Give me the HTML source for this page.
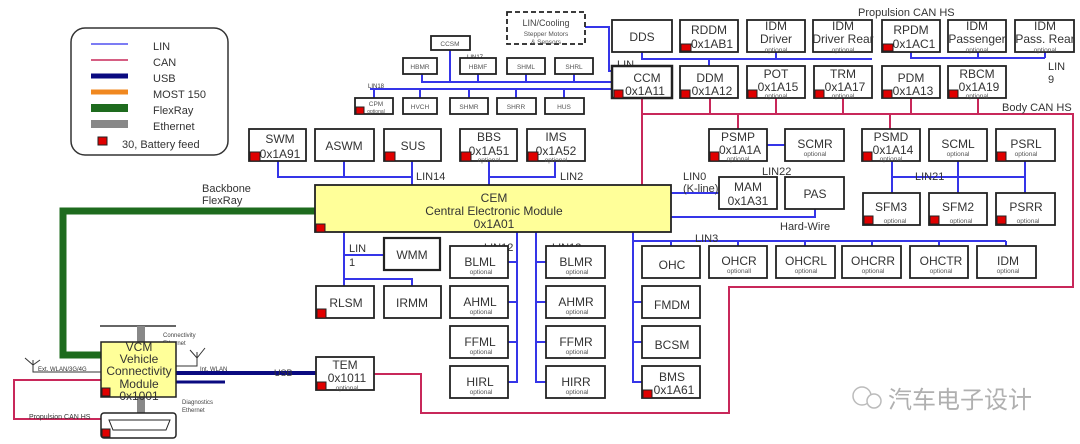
<!DOCTYPE html>
<html><head><meta charset="utf-8"><style>
html,body{margin:0;padding:0;background:#fff;}
svg{display:block;font-family:"Liberation Sans",Arial,sans-serif;}
.b{fill:#fff;stroke:#222;stroke-width:1.8}
.t{font-size:12px;fill:#333;text-anchor:middle}
.s{font-size:8px;fill:#444;text-anchor:middle}
.o{font-size:6.5px;fill:#555;text-anchor:middle}
.l{font-size:11px;fill:#333}
.r{fill:#e00000;stroke:#222;stroke-width:1}
.lin{stroke:#3535e8;stroke-width:2;fill:none}
.can{stroke:#c8285a;stroke-width:2;fill:none}
</style></head><body>
<svg width="1080" height="444" viewBox="0 0 1080 444" xmlns="http://www.w3.org/2000/svg">
<!-- legend -->
<rect x="71" y="28" width="157" height="127" rx="14" fill="#fff" stroke="#333" stroke-width="1.5"/>
<line x1="91" y1="44" x2="128" y2="44" stroke="#5050f0" stroke-width="1.5"/>
<line x1="91" y1="60" x2="128" y2="60" stroke="#c8285a" stroke-width="1.5"/>
<line x1="91" y1="76" x2="128" y2="76" stroke="#0a0a80" stroke-width="5"/>
<line x1="91" y1="92" x2="128" y2="92" stroke="#f08820" stroke-width="5"/>
<line x1="91" y1="108" x2="128" y2="108" stroke="#1e6b1e" stroke-width="8"/>
<line x1="91" y1="124" x2="128" y2="124" stroke="#888" stroke-width="8"/>
<rect x="98" y="137" width="9" height="8" class="r"/>
<text class="l" x="153" y="50">LIN</text><text class="l" x="153" y="66">CAN</text>
<text class="l" x="153" y="82">USB</text><text class="l" x="153" y="98">MOST 150</text>
<text class="l" x="153" y="114">FlexRay</text><text class="l" x="153" y="130">Ethernet</text>
<text class="l" x="122" y="148">30, Battery feed</text>

<!-- FlexRay -->
<polyline points="316,211 63,211 63,355 101,355" fill="none" stroke="#1e6b1e" stroke-width="7"/>
<text class="l" x="202" y="192">Backbone</text><text class="l" x="202" y="204">FlexRay</text>

<!-- CAN lines -->
<polyline class="can" points="642,98 642,186"/>
<polyline class="can" points="642,114 1073,114 1073,287 729,287 729,413 421,413 421,374 374,374"/>
<line class="can" x1="710" y1="98" x2="710" y2="114"/>
<line class="can" x1="776" y1="98" x2="776" y2="114"/>
<line class="can" x1="843" y1="98" x2="843" y2="114"/>
<line class="can" x1="911" y1="98" x2="911" y2="114"/>
<line class="can" x1="978" y1="98" x2="978" y2="114"/>
<line class="can" x1="738" y1="114" x2="738" y2="129"/>
<line class="can" x1="890" y1="114" x2="890" y2="129" stroke-width="3"/>
<polyline class="can" points="101,380 14,380 14,419 101,419"/>
<text class="l" x="1002" y="111">Body CAN HS</text>
<text class="l" x="858" y="16">Propulsion CAN HS</text>
<text x="29" y="419" style="font-size:7px;fill:#333">Propulsion CAN HS</text>

<!-- LIN lines top -->
<polyline class="lin" points="585,27 609,27 609,71 612,71"/>
<polyline class="lin" points="422,74 422,82 612,82"/>
<line class="lin" x1="450" y1="50" x2="450" y2="82"/>
<line class="lin" x1="478" y1="74" x2="478" y2="82"/>
<line class="lin" x1="526" y1="74" x2="526" y2="82"/>
<line class="lin" x1="574" y1="74" x2="574" y2="82"/>
<line class="lin" x1="370" y1="89" x2="612" y2="89"/>
<line class="lin" x1="374" y1="89" x2="374" y2="98"/>
<line class="lin" x1="420" y1="89" x2="420" y2="98"/>
<line class="lin" x1="469" y1="89" x2="469" y2="98"/>
<line class="lin" x1="516" y1="89" x2="516" y2="98"/>
<line class="lin" x1="564" y1="89" x2="564" y2="98"/>
<text x="467" y="59" style="font-size:6px;fill:#333">LIN17</text>
<text x="368" y="88" style="font-size:6px;fill:#333">LIN18</text>
<polyline class="lin" points="642,52 642,59 872,59" stroke-width="2.5"/>
<line class="lin" x1="709" y1="59" x2="709" y2="66"/>
<line class="lin" x1="776" y1="52" x2="776" y2="59"/>
<polyline class="lin" points="911,52 911,58 1045,58"/>
<line class="lin" x1="978" y1="52" x2="978" y2="58"/>
<line class="lin" x1="1045" y1="52" x2="1045" y2="58"/>
<text class="l" x="617" y="68">LIN</text><text class="l" x="617" y="78">5</text>
<text class="l" x="1048" y="70">LIN</text><text class="l" x="1048" y="83">9</text>
<!-- LIN14 / LIN2 -->
<polyline class="lin" points="278,161 278,177 412,177 412,186"/>
<line class="lin" x1="344" y1="161" x2="344" y2="177"/>
<line class="lin" x1="412" y1="161" x2="412" y2="177"/>
<polyline class="lin" points="489,161 489,186"/>
<polyline class="lin" points="489,177 555,177 555,161"/>
<text class="l" x="416" y="180">LIN14</text><text class="l" x="560" y="180">LIN2</text>
<!-- right side LIN -->
<line class="lin" x1="671" y1="193" x2="719" y2="193"/>
<line class="lin" x1="767" y1="145" x2="785" y2="145"/>
<polyline class="lin" points="671,217 815,217 815,209"/>
<text class="l" x="683" y="180">LIN0</text><text class="l" x="683" y="192">(K-line)</text>
<text class="l" x="762" y="175">LIN22</text>
<text class="l" x="780" y="230">Hard-Wire</text>
<polyline class="lin" points="892,161 892,193"/>
<line class="lin" x1="892" y1="177" x2="1025" y2="177"/>
<line class="lin" x1="958" y1="161" x2="958" y2="193"/>
<line class="lin" x1="1025" y1="161" x2="1025" y2="193"/>
<text class="l" x="915" y="180">LIN21</text>
<!-- below CEM -->
<polyline class="lin" points="344,232 344,286"/>
<line class="lin" x1="344" y1="255" x2="384" y2="255"/>
<polyline class="lin" points="344,279 412,279 412,286"/>
<text class="l" x="349" y="252">LIN</text><text class="l" x="349" y="266">1</text>
<polyline class="lin" points="517,232 517,382 508,382"/>
<line class="lin" x1="508" y1="262" x2="517" y2="262"/><line class="lin" x1="508" y1="302" x2="517" y2="302"/><line class="lin" x1="508" y1="342" x2="517" y2="342"/>
<polyline class="lin" points="536,232 536,382 546,382"/>
<line class="lin" x1="536" y1="262" x2="546" y2="262"/><line class="lin" x1="536" y1="302" x2="546" y2="302"/><line class="lin" x1="536" y1="342" x2="546" y2="342"/>
<text class="l" x="484" y="251">LIN12</text><text class="l" x="552" y="251">LIN13</text>
<polyline class="lin" points="633,232 633,382 642,382"/>
<line class="lin" x1="633" y1="241" x2="1006" y2="241"/>
<line class="lin" x1="671" y1="241" x2="671" y2="246"/><line class="lin" x1="738" y1="241" x2="738" y2="246"/><line class="lin" x1="805" y1="241" x2="805" y2="246"/><line class="lin" x1="872" y1="241" x2="872" y2="246"/><line class="lin" x1="939" y1="241" x2="939" y2="246"/><line class="lin" x1="1006" y1="241" x2="1006" y2="246"/>
<line class="lin" x1="633" y1="302" x2="642" y2="302"/><line class="lin" x1="633" y1="342" x2="642" y2="342"/>
<text class="l" x="695" y="242">LIN3</text>

<!-- USB / Ethernet -->
<line x1="176" y1="373" x2="316" y2="373" stroke="#0a0a80" stroke-width="4"/>
<line x1="176" y1="382" x2="225" y2="382" stroke="#0a0a80" stroke-width="3"/>
<text x="274" y="376" style="font-size:9px;fill:#333">USB</text>
<text x="200" y="371" style="font-size:6px;fill:#333">Int. WLAN</text>
<line x1="100" y1="326" x2="176" y2="326" stroke="#333" stroke-width="1.5"/>
<line x1="141" y1="326" x2="141" y2="342" stroke="#888" stroke-width="8"/>
<line x1="141" y1="397" x2="141" y2="413" stroke="#888" stroke-width="8"/>
<text x="163" y="337" style="font-size:6px;fill:#444">Connectivity</text><text x="163" y="345" style="font-size:6px;fill:#444">Ethernet</text>
<text x="182" y="404" style="font-size:6px;fill:#444">Diagnostics</text><text x="182" y="412" style="font-size:6px;fill:#444">Ethernet</text>
<polyline points="176,366 197,366 197,354" fill="none" stroke="#333" stroke-width="1"/>
<path d="M190,350 L197,358 L205,348 M197,352 L197,358" fill="none" stroke="#333"/>
<path d="M25,358 L33,365 L40,360 M33,360 L33,372 L101,372" fill="none" stroke="#333"/>
<text x="38" y="371" style="font-size:6px;fill:#333">Ext. WLAN/3G/4G</text>

<!-- boxes -->
<rect x="507" y="12" width="78" height="32" fill="#fff" stroke="#222" stroke-width="1.8" stroke-dasharray="5,3"/>
<text class="s" x="546" y="26" style="font-size:9px">LIN/Cooling</text><text class="o" x="546" y="36">Stepper Motors</text><text class="o" x="546" y="44">&amp; Sensors</text>
<rect class="b" x="431" y="36" width="39" height="14"/><text class="o" x="450" y="46">CCSM</text>
<rect class="b" x="403" y="58" width="34" height="16"/><text class="o" x="420" y="69">HBMR</text>
<rect class="b" x="460" y="58" width="36" height="16"/><text class="o" x="478" y="69">HBMF</text>
<rect class="b" x="507" y="58" width="38" height="16"/><text class="o" x="526" y="69">SHML</text>
<rect class="b" x="555" y="58" width="38" height="16"/><text class="o" x="574" y="69">SHRL</text>
<rect class="b" x="355" y="98" width="38" height="16"/><text class="o" x="376" y="106">CPM</text><text class="o" x="376" y="113" style="font-size:5px">optional</text><rect class="r" x="356" y="107" width="8" height="7"/>
<rect class="b" x="403" y="98" width="34" height="16"/><text class="o" x="420" y="109">HVCH</text>
<rect class="b" x="450" y="98" width="38" height="16"/><text class="o" x="469" y="109">SHMR</text>
<rect class="b" x="497" y="98" width="39" height="16"/><text class="o" x="516" y="109">SHRR</text>
<rect class="b" x="545" y="98" width="39" height="16"/><text class="o" x="564" y="109">HUS</text>

<rect class="b" x="249" y="129" width="57" height="32"/><text class="t" x="280" y="143">SWM</text><text class="t" x="280" y="158">0x1A91</text><rect class="r" x="250" y="152" width="10" height="9"/>
<rect class="b" x="315" y="129" width="59" height="32"/><text class="t" x="344" y="150">ASWM</text>
<rect class="b" x="384" y="129" width="57" height="32"/><text class="t" x="413" y="150">SUS</text><rect class="r" x="385" y="152" width="10" height="9"/>
<rect class="b" x="460" y="129" width="57" height="32"/><text class="t" x="489" y="141">BBS</text><text class="t" x="489" y="155">0x1A51</text><text class="o" x="489" y="162">optional</text><rect class="r" x="461" y="152" width="10" height="9"/>
<rect class="b" x="527" y="129" width="58" height="32"/><text class="t" x="556" y="141">IMS</text><text class="t" x="556" y="155">0x1A52</text><text class="o" x="556" y="162">optional</text><rect class="r" x="528" y="152" width="10" height="9"/>

<rect class="b" x="612" y="20" width="60" height="32"/><text class="t" x="642" y="41">DDS</text>
<rect class="b" x="680" y="20" width="58" height="32"/><text class="t" x="709" y="34">RDDM</text><text class="t" x="712" y="48">0x1AB1</text><rect class="r" x="681" y="44" width="10" height="7"/>
<rect class="b" x="747" y="20" width="58" height="32"/><text class="t" x="776" y="30">IDM</text><text class="t" x="776" y="43">Driver</text><text class="o" x="776" y="52">optional</text>
<rect class="b" x="813" y="20" width="59" height="32"/><text class="t" x="843" y="30">IDM</text><text class="t" x="843" y="43">Driver Rear</text><text class="o" x="843" y="52">optional</text>
<rect class="b" x="882" y="20" width="58" height="32"/><text class="t" x="911" y="34">RPDM</text><text class="t" x="914" y="48">0x1AC1</text><rect class="r" x="883" y="44" width="10" height="7"/>
<rect class="b" x="948" y="20" width="58" height="32"/><text class="t" x="977" y="30">IDM</text><text class="t" x="977" y="43">Passenger</text><text class="o" x="977" y="52">optional</text>
<rect class="b" x="1015" y="20" width="59" height="32"/><text class="t" x="1045" y="30">IDM</text><text class="t" x="1045" y="43">Pass. Rear</text><text class="o" x="1045" y="52">optional</text>

<rect class="b" x="612" y="66" width="60" height="32" style="stroke-width:2.5"/><text class="t" x="647" y="82">CCM</text><text class="t" x="645" y="95">0x1A11</text><rect class="r" x="614" y="90" width="9" height="8"/>
<rect class="b" x="680" y="66" width="58" height="32"/><text class="t" x="710" y="82">DDM</text><text class="t" x="712" y="95">0x1A12</text><rect class="r" x="681" y="90" width="9" height="8"/>
<rect class="b" x="747" y="66" width="58" height="32"/><text class="t" x="776" y="78">POT</text><text class="t" x="778" y="91">0x1A15</text><text class="o" x="776" y="98">optional</text><rect class="r" x="748" y="90" width="9" height="8"/>
<rect class="b" x="814" y="66" width="58" height="32"/><text class="t" x="843" y="78">TRM</text><text class="t" x="845" y="91">0x1A17</text><text class="o" x="843" y="98">optional</text><rect class="r" x="815" y="90" width="9" height="8"/>
<rect class="b" x="882" y="66" width="58" height="32"/><text class="t" x="911" y="82">PDM</text><text class="t" x="913" y="95">0x1A13</text><rect class="r" x="883" y="90" width="9" height="8"/>
<rect class="b" x="948" y="66" width="58" height="32"/><text class="t" x="977" y="78">RBCM</text><text class="t" x="979" y="91">0x1A19</text><text class="o" x="977" y="98">optional</text><rect class="r" x="949" y="90" width="9" height="8"/>

<rect class="b" x="709" y="129" width="58" height="32"/><text class="t" x="738" y="141">PSMP</text><text class="t" x="740" y="154">0x1A1A</text><text class="o" x="738" y="161">optional</text><rect class="r" x="710" y="152" width="9" height="9"/>
<rect class="b" x="785" y="129" width="59" height="32"/><text class="t" x="815" y="148">SCMR</text><text class="o" x="815" y="156">optional</text>
<rect class="b" x="862" y="129" width="58" height="32"/><text class="t" x="891" y="141">PSMD</text><text class="t" x="893" y="154">0x1A14</text><text class="o" x="891" y="161">optional</text><rect class="r" x="863" y="152" width="9" height="9"/>
<rect class="b" x="929" y="129" width="58" height="32"/><text class="t" x="958" y="148">SCML</text><text class="o" x="958" y="156">optional</text>
<rect class="b" x="996" y="129" width="59" height="32"/><text class="t" x="1026" y="148">PSRL</text><text class="o" x="1026" y="156">optional</text><rect class="r" x="997" y="152" width="9" height="9"/>
<rect class="b" x="719" y="177" width="58" height="32"/><text class="t" x="748" y="191">MAM</text><text class="t" x="748" y="205">0x1A31</text>
<rect class="b" x="785" y="177" width="59" height="32"/><text class="t" x="815" y="198">PAS</text>
<rect class="b" x="863" y="193" width="57" height="32"/><text class="t" x="891" y="211">SFM3</text><text class="o" x="895" y="223">optional</text><rect class="r" x="864" y="216" width="9" height="8"/>
<rect class="b" x="929" y="193" width="58" height="32"/><text class="t" x="958" y="211">SFM2</text><text class="o" x="961" y="223">optional</text><rect class="r" x="930" y="216" width="9" height="8"/>
<rect class="b" x="996" y="193" width="59" height="32"/><text class="t" x="1026" y="211">PSRR</text><text class="o" x="1028" y="223">optional</text><rect class="r" x="997" y="216" width="9" height="8"/>

<!-- CEM -->
<rect x="315" y="185" width="356" height="47" fill="#ffff99" stroke="#222" stroke-width="1.8"/>
<text class="t" x="494" y="202">CEM</text><text class="t" x="494" y="215">Central Electronic Module</text><text class="t" x="494" y="228">0x1A01</text>
<rect class="r" x="316" y="224" width="9" height="8"/>

<rect class="b" x="384" y="238" width="56" height="32" style="stroke-width:2.2"/><text class="t" x="412" y="259">WMM</text>
<rect class="b" x="316" y="286" width="58" height="32"/><text class="t" x="346" y="307">RLSM</text><rect class="r" x="317" y="309" width="9" height="9"/>
<rect class="b" x="384" y="286" width="57" height="32"/><text class="t" x="412" y="307">IRMM</text>
<rect class="b" x="450" y="246" width="58" height="32"/><text class="t" x="480" y="266">BLML</text><text class="o" x="481" y="274">optional</text>
<rect class="b" x="450" y="286" width="58" height="32"/><text class="t" x="480" y="306">AHML</text><text class="o" x="481" y="314">optional</text>
<rect class="b" x="450" y="326" width="58" height="32"/><text class="t" x="480" y="346">FFML</text><text class="o" x="481" y="354">optional</text>
<rect class="b" x="450" y="366" width="58" height="32"/><text class="t" x="480" y="386">HIRL</text><text class="o" x="481" y="394">optional</text>
<rect class="b" x="546" y="246" width="59" height="32"/><text class="t" x="576" y="266">BLMR</text><text class="o" x="577" y="274">optional</text>
<rect class="b" x="546" y="286" width="59" height="32"/><text class="t" x="576" y="306">AHMR</text><text class="o" x="577" y="314">optional</text>
<rect class="b" x="546" y="326" width="59" height="32"/><text class="t" x="576" y="346">FFMR</text><text class="o" x="577" y="354">optional</text>
<rect class="b" x="546" y="366" width="59" height="32"/><text class="t" x="576" y="386">HIRR</text><text class="o" x="577" y="394">optional</text>

<rect class="b" x="642" y="246" width="58" height="32"/><text class="t" x="672" y="269">OHC</text>
<rect class="b" x="709" y="246" width="58" height="32"/><text class="t" x="739" y="265">OHCR</text><text class="o" x="739" y="273">optionall</text>
<rect class="b" x="776" y="246" width="59" height="32"/><text class="t" x="806" y="265">OHCRL</text><text class="o" x="806" y="273">optional</text>
<rect class="b" x="842" y="246" width="59" height="32"/><text class="t" x="873" y="265">OHCRR</text><text class="o" x="873" y="273">optional</text>
<rect class="b" x="910" y="246" width="58" height="32"/><text class="t" x="941" y="265">OHCTR</text><text class="o" x="941" y="273">optional</text>
<rect class="b" x="977" y="246" width="59" height="32"/><text class="t" x="1008" y="265">IDM</text><text class="o" x="1008" y="273">optional</text>
<rect class="b" x="642" y="286" width="58" height="32"/><text class="t" x="672" y="309">FMDM</text>
<rect class="b" x="642" y="326" width="58" height="32"/><text class="t" x="672" y="349">BCSM</text>
<rect class="b" x="642" y="366" width="58" height="32"/><text class="t" x="672" y="381">BMS</text><text class="t" x="674" y="394">0x1A61</text><rect class="r" x="643" y="390" width="9" height="8"/>

<rect class="b" x="316" y="357" width="58" height="33"/><text class="t" x="345" y="369">TEM</text><text class="t" x="347" y="382">0x1011</text><text class="o" x="347" y="390">optional</text><rect class="r" x="317" y="382" width="9" height="8"/>

<rect x="101" y="342" width="75" height="55" fill="#ffff99" stroke="#222" stroke-width="1.5"/>
<text class="t" x="139" y="351">VCM</text><text class="t" x="139" y="363">Vehicle</text><text class="t" x="139" y="375">Connectivity</text><text class="t" x="139" y="388">Module</text><text class="t" x="139" y="400">0x1001</text>
<rect class="r" x="102" y="388" width="8" height="8"/>
<rect x="101" y="413" width="75" height="25" rx="3" fill="#fff" stroke="#222" stroke-width="1.5"/>
<path d="M109,420 L170,420 L166,430 L113,430 Z" fill="none" stroke="#222"/>
<rect class="r" x="102" y="429" width="8" height="8"/>

<text x="888" y="408" style="font-family:'Liberation Sans','Noto Sans CJK SC',sans-serif;font-size:24px;fill:#b0b0b0">汽车电子设计</text>
<circle cx="862" cy="396" r="9" fill="none" stroke="#bbb" stroke-width="1.5"/><circle cx="874" cy="401" r="7" fill="#fff" stroke="#bbb" stroke-width="1.5"/>
</svg>
</body></html>
